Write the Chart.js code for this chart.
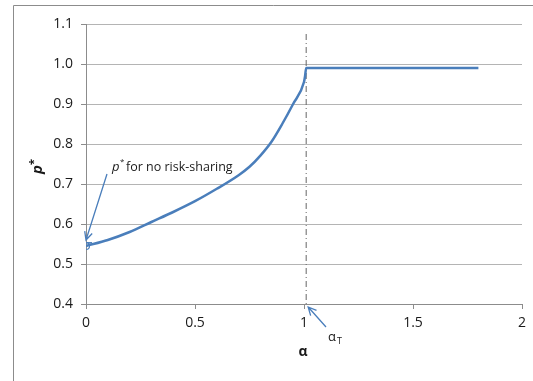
<!DOCTYPE html>
<html>
<head>
    <meta charset="utf-8">
    <script src="https://cdn.jsdelivr.net/npm/chart.js"></script>
    <style>
      * { margin: 0; padding: 0; }
      body { background: #fff; }
      .chartBox { width: 533px; height: 381px; }
    </style>
</head>
<body>
    <div class="chartBox">
        <canvas id="chart"></canvas>
    </div>
<script>
    // alpha on the x axis, equilibrium p* on the y axis
    const alphaValues = [0, 0.1, 0.2, 0.3, 0.4, 0.5, 0.6, 0.7, 0.75, 0.8, 0.85, 0.9, 0.95, 1.0, 1.005, 1.01, 1.2, 1.4, 1.6, 1.8];
    const pStar = [0.545, 0.56, 0.58, 0.605, 0.63, 0.657, 0.688, 0.722, 0.743, 0.771, 0.805, 0.85, 0.9, 0.955, 0.97, 0.99, 0.99, 0.99, 0.99, 0.99];

    // p* without risk-sharing, marked at alpha = 0
    const noRiskAlpha = [0];
    const noRiskP = [0.553];

    // threshold alpha_T (dash-dot vertical line)
    const alphaT = 1.01;

    const xTicks = [0, 0.5, 1, 1.5, 2];
    const yTicks = [0.4, 0.5, 0.6, 0.7, 0.8, 0.9, 1.0, 1.1];

    const FONT = '"Open Sans", sans-serif';
    const BLUE = '#4a7ebb';

    function arrow(ctx, x1, y1, x2, y2, head) {
        const a = Math.atan2(y2 - y1, x2 - x1);
        ctx.beginPath();
        ctx.moveTo(x1, y1);
        ctx.lineTo(x2, y2);
        ctx.moveTo(x2 - head * Math.cos(a - 0.45), y2 - head * Math.sin(a - 0.45));
        ctx.lineTo(x2, y2);
        ctx.lineTo(x2 - head * Math.cos(a + 0.45), y2 - head * Math.sin(a + 0.45));
        ctx.stroke();
    }

    const extras = {
        id: 'extras',
        beforeDatasetsDraw(chart) {
            const ctx = chart.ctx;
            const x = chart.scales.x, y = chart.scales.y;
            // alpha_T line
            ctx.save();
            ctx.strokeStyle = '#666';
            ctx.lineWidth = 1;
            ctx.setLineDash([6, 3, 1, 3]);
            ctx.beginPath();
            ctx.moveTo(x.getPixelForValue(alphaT), y.getPixelForValue(1.075));
            ctx.lineTo(x.getPixelForValue(alphaT), y.getPixelForValue(0.4));
            ctx.stroke();
            ctx.restore();
        },
        afterDraw(chart) {
            const ctx = chart.ctx;
            const x = chart.scales.x, y = chart.scales.y;
            ctx.save();
            // outer frame
            ctx.strokeStyle = '#8c8c8c';
            ctx.lineWidth = 1;
            ctx.beginPath();
            ctx.moveTo(13.5, 390);
            ctx.lineTo(13.5, 5.5);
            ctx.lineTo(540, 5.5);
            ctx.stroke();

            // annotation arrows
            ctx.strokeStyle = BLUE;
            ctx.lineWidth = 1.3;
            arrow(ctx, 107, 174, x.getPixelForValue(0), y.getPixelForValue(0.56), 9);
            arrow(ctx, 326, 327, x.getPixelForValue(alphaT) + 2, y.getPixelForValue(0.4) + 3, 9);

            // annotation text
            ctx.fillStyle = '#1a1a1a';
            ctx.textBaseline = 'alphabetic';
            ctx.font = 'italic 13px ' + FONT;
            ctx.fillText('p', 112, 171);
            ctx.font = '8px ' + FONT;
            ctx.fillText('*', 120, 164);
            ctx.font = '12.5px ' + FONT;
            ctx.fillText('for no risk-sharing', 126, 171);

            ctx.font = '13px ' + FONT;
            ctx.fillText('α', 328, 341);
            ctx.font = '9px ' + FONT;
            ctx.fillText('T', 337, 344);

            // axis titles
            ctx.font = 'bold 14px ' + FONT;
            ctx.textAlign = 'center';
            ctx.fillText('α', 303, 356);
            ctx.translate(42, 165);
            ctx.rotate(-Math.PI / 2);
            ctx.font = 'bold italic 15px ' + FONT;
            ctx.textAlign = 'left';
            ctx.fillText('p', -9, 0);
            ctx.font = 'bold 11px ' + FONT;
            ctx.fillText('*', 0, -5);
            ctx.restore();
        }
    };

    const data = {
        datasets: [{
            label: 'p*',
            data: alphaValues.map((a, i) => ({ x: a, y: pStar[i] })),
            borderColor: BLUE,
            borderWidth: 2.5,
            pointRadius: c => c.dataIndex === 0 ? 3.5 : 0,
            pointBorderColor: BLUE,
            pointBorderWidth: 1.2,
            pointBackgroundColor: 'rgba(0,0,0,0)',
            cubicInterpolationMode: 'monotone',
            fill: false
        }, {
            label: 'no risk-sharing',
            data: noRiskAlpha.map((a, i) => ({ x: a, y: noRiskP[i] })),
            showLine: false,
            pointStyle: 'line',
            pointRadius: 6,
            borderColor: BLUE,
            borderWidth: 1.5
        }]
    };

    const config = {
        type: 'line',
        data,
        plugins: [extras],
        options: {
            responsive: true,
            maintainAspectRatio: false,
            animation: false,
            layout: { padding: { top: 24, right: 11, left: 0, bottom: 0 } },
            plugins: { legend: { display: false }, tooltip: { enabled: false } },
            scales: {
                x: {
                    type: 'linear',
                    min: 0, max: 2,
                    afterFit(s) { s.height = 77; },
                    afterBuildTicks(s) { s.ticks = xTicks.map(v => ({ value: v })); },
                    grid: { drawOnChartArea: false, drawTicks: true, tickLength: 5, color: '#8c8c8c' },
                    border: { color: '#8c8c8c', width: 1 },
                    ticks: { padding: 6, color: '#1a1a1a', font: { family: FONT, size: 14 }, maxRotation: 0,
                             callback: v => String(v) }
                },
                y: {
                    min: 0.4, max: 1.1,
                    afterFit(s) { s.width = 86; },
                    afterBuildTicks(s) { s.ticks = yTicks.map(v => ({ value: v })); },
                    grid: { color: '#b4b4b4', tickLength: 5, tickColor: '#8c8c8c' },
                    border: { color: '#8c8c8c', width: 1 },
                    ticks: { padding: 8, color: '#1a1a1a', font: { family: FONT, size: 14 },
                             callback: v => v.toFixed(1) }
                }
            }
        }
    };

    const chart = new Chart(document.getElementById('chart'), config);
</script>
</body>
</html>
